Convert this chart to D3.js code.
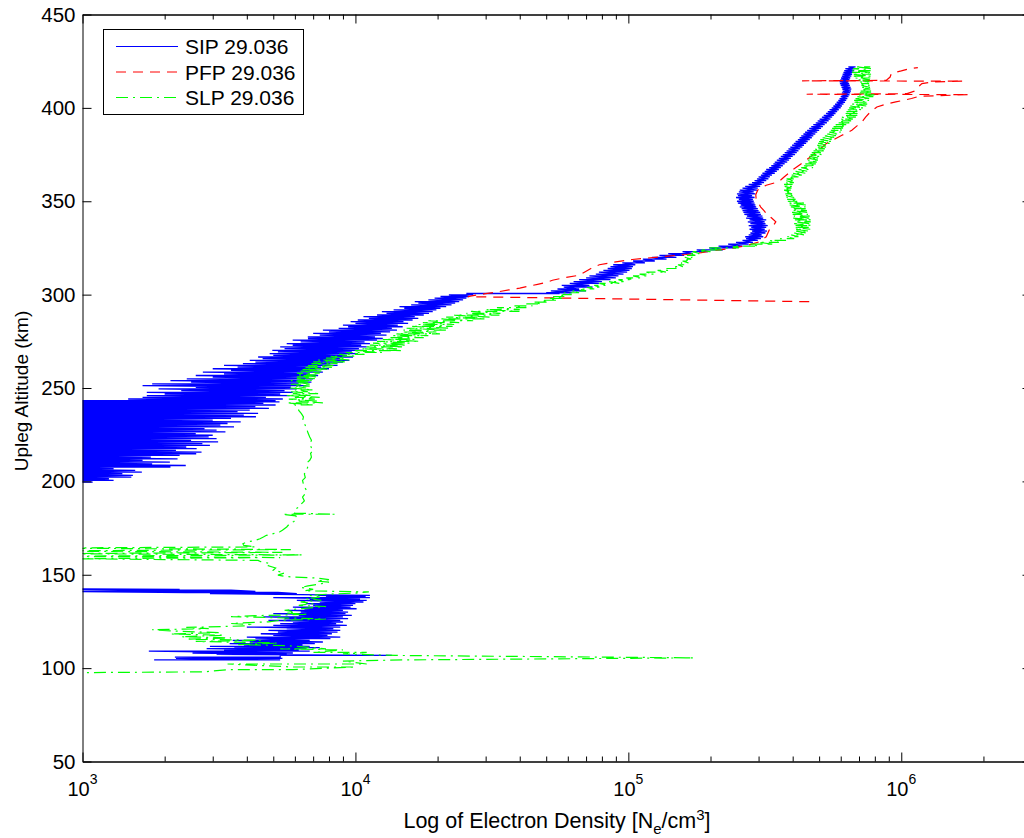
<!DOCTYPE html>
<html>
<head>
<meta charset="utf-8">
<script src="https://cdn.jsdelivr.net/npm/d3@7"></script>
<style>
body { margin: 0; background: #fff; }
svg text { font-family: "Liberation Sans", Arial, Helvetica, sans-serif; fill: #000; }
</style>
</head>
<body>
<div id="vis-container"></div>
<script>
// each row: [altitude (km), Ne, Ne ...] -- the trace passes through the values in order
const sipRows = [
    [104.4, 1830, 5300], [105.2, 2200, 5400], [105.9, 2180, 5300], [106.8, 5300, 13600],
    [107.4, 3100, 5600], [108.1, 2530, 5900], [109.1, 1750, 6800], [109.8, 3300, 6200],
    [110.4, 2850, 6600], [111.0, 3600, 7400], [111.6, 2930, 6800], [112.4, 3900, 6400],
    [113.1, 3460, 7100], [114.0, 4100, 7600], [114.9, 3550, 6800], [115.8, 4300, 8100],
    [116.6, 4000, 8800], [117.5, 5000, 7900], [118.4, 4500, 8200], [119.3, 5200, 8600],
    [120.2, 4800, 8800], [121.1, 5600, 8300], [122.0, 4000, 8800], [122.9, 5000, 9300],
    [123.8, 5300, 8500], [124.7, 5900, 9000], [125.6, 4800, 8800], [126.5, 5500, 9400],
    [127.4, 4600, 9000], [128.3, 6200, 9700], [129.2, 5000, 9200], [130.0, 6300, 9400],
    [130.9, 5700, 9000], [131.8, 6500, 10100], [132.7, 5900, 9600], [133.6, 7000, 9800],
    [134.5, 6600, 10000], [135.4, 7400, 10700], [136.3, 6100, 11000], [137.0, 6800, 10400],
    [137.7, 5000, 11300], [138.4, 7800, 10900], [139.0, 7300, 11300], [139.9, 2930, 6100],
    [140.5, 5200, 2400], [141.1, 700, 4300], [141.7, 3500, 1600], [142.2, 700, 2270],
    [142.5, 600], [170.0, 500], [199.4, 600],
    [199.6, 700, 1090], [200.5, 620, 1300], [201.4, 680, 1250], [202.3, 600, 1510],
    [203.2, 650, 1530], [204.1, 700, 1400], [205.0, 620, 1650], [205.9, 680, 1560],
    [206.8, 600, 1300], [207.7, 640, 2100], [208.5, 700, 2390], [209.4, 610, 1800],
    [210.3, 660, 2090], [211.2, 620, 1660], [212.1, 700, 2230], [213.0, 640, 1780],
    [213.9, 600, 2270], [214.8, 680, 2610], [215.7, 620, 2730], [216.6, 660, 2200],
    [217.5, 600, 2620], [218.4, 700, 2400], [219.3, 640, 2930], [220.2, 610, 2750],
    [221.1, 680, 3140], [222.0, 620, 2500], [222.9, 660, 3100], [223.8, 600, 2900],
    [224.7, 700, 3000], [225.6, 640, 2600], [226.5, 610, 3340], [227.4, 680, 3100],
    [228.3, 620, 2800], [229.2, 660, 3590], [230.1, 600, 3200], [231.0, 700, 3400],
    [231.9, 640, 3800], [232.8, 610, 3000], [233.7, 680, 3500], [234.6, 620, 4320],
    [235.5, 660, 3900], [236.4, 600, 4400], [237.3, 700, 3700], [238.2, 640, 4100],
    [239.1, 610, 4820], [240.0, 680, 4300], [240.9, 620, 5100], [241.8, 660, 4600],
    [242.6, 600, 5270],
    [243.2, 700, 5100], [244.1, 1470, 5420], [245.0, 1660, 4700], [245.9, 1720, 5740],
    [246.8, 2000, 5300], [247.7, 1720, 5890], [248.6, 2300, 5500], [249.5, 1900, 6100],
    [250.4, 2600, 5800], [251.3, 1660, 6600], [252.2, 1800, 6200], [253.1, 2500, 6900],
    [254.0, 2100, 6400], [254.9, 2410, 7000], [255.8, 3000, 6600], [256.7, 2600, 7300],
    [257.6, 3300, 6800], [258.5, 2760, 7600], [259.4, 3500, 7200], [260.3, 3000, 8000],
    [261.2, 3700, 7500], [262.1, 3300, 8600], [263.0, 3870, 8100], [263.9, 4300, 9000],
    [264.8, 4100, 9500], [265.7, 4570, 8800], [266.6, 4400, 9800], [267.5, 5000, 9300],
    [268.4, 4850, 10200], [269.3, 5200, 9700], [270.2, 4960, 10700], [271.1, 5500, 10300],
    [272.0, 5300, 11000], [272.9, 5890, 10500], [273.8, 5600, 11300], [274.7, 6300, 10800],
    [275.6, 5890, 12000], [276.5, 6700, 12600], [277.4, 6690, 11800], [278.3, 7400, 13000],
    [279.2, 7000, 12400], [280.1, 8000, 13400], [281.0, 7600, 14200], [281.9, 8680, 13600],
    [282.8, 9400, 14900], [283.7, 9000, 14300], [284.6, 10000, 15600], [285.5, 9600, 15000],
    [286.4, 10200, 16200], [287.3, 11200, 17000], [288.2, 10700, 16500], [289.1, 12000, 17800],
    [290.0, 13000, 18600], [290.9, 12500, 19200], [291.8, 13800, 19800], [292.7, 15100, 20500],
    [293.6, 14500, 21500], [294.5, 16000, 22500], [295.4, 17000, 23200], [296.3, 16500, 24000],
    [297.2, 18500, 24800], [298.1, 19500, 25500], [299.0, 20500, 26000], [299.9, 22000, 27000],
    [300.6, 25500, 56000],
    [301, 50000, 62000], [302, 52000, 70000], [303, 55000, 66000], [304, 58000, 74000],
    [305, 57000, 72000], [306, 61000, 78000], [307, 63000, 80000], [308, 66000, 86000],
    [309, 70000, 90000], [310, 72000, 92000], [311, 76000, 96000], [312, 78000, 99000],
    [313, 81000, 101000], [314, 84000, 103000], [315, 86000, 104000], [316, 88000, 106000],
    [317, 95000, 115000], [318, 104000, 125000], [319, 113000, 138000], [320, 122000, 150000],
    [321, 130000, 160000], [322, 140000, 172000], [323, 158000, 196000], [324, 178000, 222000],
    [325, 198000, 248000], [326, 214000, 262000], [327, 232000, 276000], [328, 248000, 286000],
    [329, 262000, 298000], [330, 270000, 306000], [331, 268000, 312000], [332, 276000, 308000],
    [333, 280000, 318000], [334, 284000, 322000], [335, 278000, 316000], [336, 282000, 320000],
    [337, 276000, 324000], [338, 280000, 318000], [339, 274000, 316000], [340, 278000, 320000],
    [341, 270000, 312000], [342, 272000, 310000], [343, 266000, 306000], [344, 264000, 304000],
    [345, 262000, 300000], [346, 260000, 298000], [347, 256000, 294000], [348, 258000, 292000],
    [349, 252000, 290000], [350, 250000, 288000], [351, 254000, 286000], [352, 248000, 290000],
    [353, 252000, 284000], [354, 250000, 292000], [355, 254000, 288000], [356, 256000, 296000],
    [357, 262000, 298000], [358, 268000, 304000], [359, 276000, 308000], [360, 284000, 314000],
    [361, 290000, 320000], [362, 296000, 326000], [363, 300000, 330000], [364, 306000, 336000],
    [365, 310000, 344000], [366, 316000, 350000], [367, 320000, 356000], [368, 328000, 362000],
    [369, 334000, 368000], [370, 340000, 374000], [371, 344000, 382000], [372, 350000, 388000],
    [373, 356000, 394000], [374, 362000, 400000], [375, 368000, 408000], [376, 374000, 414000],
    [377, 380000, 420000], [378, 386000, 426000], [379, 392000, 434000], [380, 398000, 440000],
    [381, 404000, 448000], [382, 410000, 454000], [383, 418000, 462000], [384, 424000, 470000],
    [385, 430000, 476000], [386, 438000, 484000], [387, 444000, 492000], [388, 452000, 500000],
    [389, 460000, 508000], [390, 468000, 516000], [391, 476000, 524000], [392, 486000, 534000],
    [393, 494000, 542000], [394, 502000, 550000], [395, 512000, 558000], [396, 520000, 566000],
    [397, 530000, 574000], [398, 538000, 582000], [399, 546000, 590000], [400, 556000, 600000],
    [401, 564000, 606000], [402, 572000, 614000], [403, 580000, 622000], [404, 588000, 628000],
    [405, 594000, 634000], [406, 600000, 640000], [407, 604000, 646000], [408, 606000, 650000],
    [409, 610000, 654000], [410, 608000, 656000], [411, 604000, 652000], [412, 600000, 648000],
    [413, 596000, 644000], [414, 594000, 640000], [415, 598000, 646000], [416, 602000, 650000],
    [417, 606000, 656000], [418, 610000, 660000], [419, 614000, 666000], [420, 618000, 672000],
    [421, 624000, 676000], [422, 640000, 680000]
];

const pfpRows = [
    [296.2, 460000], [298.9, 25800], [299.5, 27000], [300.5, 30000], [301.4, 33000],
    [302.5, 36500], [303.5, 40000], [304.5, 43000], [305.5, 46500], [306.5, 50000],
    [307.7, 52700], [309.0, 58000], [310.4, 66100], [312.0, 69000], [314.0, 72900],
    [316.0, 78300], [317.5, 90000], [318.8, 103300], [320.5, 137300], [321.5, 162500],
    [322.5, 185000], [323.8, 210000], [324.8, 240000], [326.5, 275000], [328.2, 300000],
    [331.0, 320000], [334.5, 328000], [337.0, 340000], [339.0, 347000], [341.0, 335000],
    [343.0, 322000], [345.0, 314000], [347.0, 305000], [348.7, 301000], [351.0, 294000],
    [353.5, 293000], [356.0, 298000], [358.6, 320000], [360.5, 356000], [363.0, 372000],
    [366.6, 398000], [370.0, 429000], [373.5, 462000], [377.3, 499000], [380.8, 530000],
    [383.0, 565000], [385.3, 606000], [388.0, 659000], [390.5, 690000], [392.5, 718000],
    [395.0, 740000], [397.0, 761000], [399.0, 790000], [400.5, 814000], [402.0, 880000],
    [403.2, 955000], [405.0, 1090000], [406.2, 1160000], [407.1, 1770000], [407.3, 450000],
    [407.6, 1050000], [409.0, 1120000], [411.0, 1150000], [413.0, 1190000], [413.9, 1300000],
    [414.3, 1690000], [414.5, 433000], [414.7, 880000], [416.5, 910000], [418.5, 920000],
    [419.8, 1000000], [420.8, 1060000], [421.6, 1150000]
];

const slpRows = [
    [97.4, 600], [98.0, 2800], [99.2, 3400, 5900], [100.6, 10000, 5900], [102.2, 3400, 11000],
    [103.8, 9000], [104.4, 15000], [105.5, 174000], [106.8, 14000], [107.6, 9000],
    [108.4, 11000, 7000], [109.8, 9000], [110.3, 5300, 7800], [112.0, 5700], [112.6, 3700],
    [113.4, 5200], [114.3, 2600], [114.9, 4500], [115.5, 2400], [116.2, 3500],
    [116.8, 2300], [117.6, 3300], [118.3, 2100], [119.0, 3200], [119.8, 2200],
    [120.6, 1800], [121.1, 2900], [121.8, 2400], [122.6, 4000], [123.4, 4100],
    [123.9, 3500], [124.8, 4800], [125.6, 5300], [126.3, 7800], [126.8, 5800],
    [127.6, 3500], [128.2, 4600], [128.8, 6700], [129.5, 5600], [130.2, 6000],
    [131.0, 5500], [132.0, 6500], [133.0, 7800], [133.6, 6200], [134.5, 7000],
    [135.5, 6300], [136.3, 7500], [137.2, 6600], [138.0, 7400], [139.0, 6800],
    [139.6, 7900], [140.2, 10000], [140.8, 11200], [141.4, 6500], [142.2, 7000],
    [143.2, 6300], [144.0, 6700], [145.2, 7500], [146.0, 8000], [146.6, 7200],
    [147.4, 8000], [148.2, 7300], [149.0, 5600], [149.8, 5200], [151.0, 5500],
    [152.4, 5000], [153.6, 5100], [154.8, 4800], [155.9, 4900], [157.0, 4500],
    [157.7, 4400], [158.6, 900], [159.2, 5300], [159.9, 700], [160.6, 6400],
    [161.3, 800], [162.0, 5400], [162.7, 600], [163.5, 5800], [164.3, 700],
    [164.9, 4300], [165.7, 3900], [166.6, 3870], [167.5, 3990], [168.4, 4300],
    [169.3, 4470], [170.2, 4600], [171.1, 4720], [172.0, 5000], [172.9, 5270],
    [173.8, 5400], [175.6, 5600], [177.4, 5745], [178.5, 5950], [180.0, 6100],
    [181.5, 6050], [182.4, 5400, 8400], [183.0, 5990], [184.0, 6100], [185.4, 6070],
    [186.5, 6250], [188.0, 6340], [189.5, 6500], [191.6, 6400], [193.5, 6550],
    [195.2, 6620], [197.0, 6500], [198.5, 6450], [200.5, 6400], [202.0, 6550],
    [204.0, 6500], [206.0, 6620], [208.0, 6700], [210.0, 6650], [211.3, 6800],
    [213.0, 6900], [215.0, 6850], [216.6, 7000], [218.0, 6900], [220.0, 6800],
    [222.0, 6900], [223.8, 6800], [226.0, 6700], [229.0, 6600], [231.0, 6500],
    [232.5, 6400], [234.5, 6450], [236.3, 6340], [238.0, 6200], [239.8, 6150],
    [241, 6000, 7000], [242, 5600, 7600], [243, 6200, 7300], [244, 5700, 7100],
    [245, 6000, 7400], [246, 5600, 6900], [247, 5900, 7300], [248, 5800, 6700],
    [249, 6000, 7000], [250, 5750, 6600], [251, 6000, 6800], [252, 5800, 6900],
    [253, 6100, 6700], [254, 5800, 7000], [255, 6100, 7100], [256, 6000, 7300],
    [257, 6200, 7200], [258, 6100, 7400], [259, 6300, 7600], [260, 6300, 7900],
    [261, 6500, 8200], [262, 6700, 8300], [263, 6900, 8600], [264, 7000, 9300],
    [265, 7300, 9500], [266, 7800, 9200], [267, 8100, 10100], [268, 8700, 10800],
    [269, 9200, 12500], [270, 9800, 14800], [271, 10500, 14200], [272, 11000, 15000],
    [273, 11300, 15400], [274, 11600, 15800], [275, 12000, 17200], [276, 12600, 16500],
    [277, 13200, 17800], [278, 13700, 18500], [279, 14100, 20400], [280, 14800, 19800],
    [281, 15000, 21500], [282, 15400, 22100], [283, 16000, 22700], [284, 17000, 23000],
    [285, 17500, 24000], [286, 18500, 27000], [287, 20400, 30000], [288, 21500, 31000],
    [289, 23000, 33700], [290, 25500, 34000], [291, 26500, 39900], [292, 30000, 40000],
    [293, 33000, 42300], [294, 38000, 44500], [295, 42300, 48000], [296, 45000, 51000],
    [297, 48000, 55000], [298, 51000, 58000], [299, 53000, 59200], [300, 55900, 62000],
    [301, 58000, 66000], [302, 62000, 70000], [303, 66100, 75000], [304, 70000, 78300],
    [305, 75000, 84000], [306, 78300, 92600], [307, 85000, 96000], [308, 92000, 104000],
    [309, 98300, 112000], [310, 104000, 118000], [311, 110000, 124000], [312, 116500, 138200],
    [313, 128000, 142000], [314, 138000, 150000], [315, 145500, 158300], [316, 152000, 162000],
    [317, 156000, 166000], [318, 158000, 168000], [319, 160000, 170000], [320, 161000, 171600],
    [321, 164000, 176000], [322, 167000, 182000], [323, 172000, 200000], [324, 182000, 220000],
    [325, 198000, 254000], [326, 240000, 300000], [327, 280000, 340000], [328, 300000, 356000],
    [329, 330000, 378000], [330, 360000, 405000], [331, 378000, 420000], [332, 395000, 440000],
    [333, 405000, 450000], [334, 412000, 460000], [335, 408000, 464000], [336, 405000, 458000],
    [337, 410000, 468000], [338, 405000, 460000], [339, 408000, 466000], [340, 405000, 468000],
    [341, 402000, 460000], [342, 404000, 462000], [343, 400000, 455000], [344, 398000, 452000],
    [345, 400000, 451000], [346, 396000, 448000], [347, 394000, 446000], [348, 390000, 447000],
    [349, 388000, 440000], [350, 384000, 420000], [351, 382000, 410000], [352, 380000, 405000],
    [353, 378000, 400000], [354, 376000, 398000], [355, 374000, 396000], [356, 372000, 398000],
    [357, 372000, 396000], [358, 374000, 398000], [359, 372000, 400000], [360, 376000, 404000],
    [361, 378000, 406000], [362, 380000, 410000], [363, 386000, 420000], [364, 392000, 432000],
    [365, 400000, 445000], [366, 410000, 455000], [367, 420000, 465000], [368, 430000, 475000],
    [369, 440000, 485000], [370, 445000, 488000], [371, 450000, 490000], [372, 455000, 495000],
    [373, 458000, 500000], [374, 460000, 505000], [375, 465000, 510000], [376, 470000, 515000],
    [377, 475000, 520000], [378, 480000, 525000], [379, 488000, 530000], [380, 492000, 540000],
    [381, 496000, 550000], [382, 500000, 558000], [383, 505000, 567000], [384, 515000, 575000],
    [385, 525000, 585000], [386, 535000, 592000], [387, 545000, 600000], [388, 552000, 610000],
    [389, 558000, 620000], [390, 565000, 627000], [391, 575000, 635000], [392, 585000, 645000],
    [393, 592000, 655000], [394, 600000, 665000], [395, 606000, 682000], [396, 615000, 690000],
    [397, 622000, 698000], [398, 630000, 705000], [399, 637000, 715000], [400, 644000, 730000],
    [401, 650000, 744000], [402, 658000, 750000], [403, 665000, 756000], [404, 672000, 762000],
    [405, 680000, 770000], [406, 690000, 790000], [407, 700000, 797000], [408, 705000, 783000],
    [409, 710000, 775000], [410, 712000, 770000], [411, 713000, 768000], [412, 715000, 765000],
    [413, 713000, 762000], [414, 705000, 765000], [415, 695000, 768000], [416, 680000, 770000],
    [417, 670000, 772000], [418, 660000, 775000], [419, 660000, 775000], [420, 662000, 772000],
    [421, 665000, 775000], [422, 680000, 770000]
];

const seriesNames = ["SIP 29.036", "PFP 29.036", "SLP 29.036"];
const altTicks = [50, 100, 150, 200, 250, 300, 350, 400, 450];
const decadeTicks = [1e3, 1e4, 1e5, 1e6];
const decadeExp = ["3", "4", "5", "6"];
const minorTicks = [2e3, 3e3, 4e3, 5e3, 6e3, 7e3, 8e3, 9e3,
    2e4, 3e4, 4e4, 5e4, 6e4, 7e4, 8e4, 9e4,
    2e5, 3e5, 4e5, 5e5, 6e5, 7e5, 8e5, 9e5, 2e6];

const seriesColor = ["#0000ff", "#ff0000", "#00ff00"];
const seriesDash = [null, "10,7", "12,5,2,5"];

const W = 1024, H = 838;
const plotLeft = 82.5, plotRight = 1031.5, plotTop = 14.5, plotBottom = 761.5;

let svg = d3.select("#vis-container")
    .append("svg")
    .attr("width", W)
    .attr("height", H);

svg.append("rect").attr("width", W).attr("height", H).attr("fill", "#fff");

let x = d3.scaleLog().domain([1e3, 3e6]).range([plotLeft, plotRight]);
let y = d3.scaleLinear().domain([50, 450]).range([plotBottom, plotTop]);

svg.append("clipPath").attr("id", "plot-clip")
    .append("rect")
    .attr("x", plotLeft).attr("y", plotTop)
    .attr("width", plotRight - plotLeft).attr("height", plotBottom - plotTop);

// rows -> [Ne, alt] points in trace order
const toPoints = rows => rows.flatMap(r => r.slice(1).map(v => [v, r[0]]));

let line = d3.line()
    .x(d => x(d[0]))
    .y(d => y(d[1]));

let traces = [sipRows, pfpRows, slpRows];
let plot_g = svg.append("g").attr("clip-path", "url(#plot-clip)");
traces.forEach((rows, i) => {
    plot_g.append("path")
        .datum(toPoints(rows))
        .attr("fill", "none")
        .attr("stroke", seriesColor[i])
        .attr("stroke-width", i === 0 ? 1.3 : 1.2)
        .attr("stroke-dasharray", seriesDash[i])
        .attr("d", line);
});

// axes, ticks pointing inward on all four sides
let styleAxis = g => {
    g.selectAll("path.domain").attr("stroke", "#000").attr("stroke-width", 1);
    g.selectAll(".tick line").attr("stroke", "#000");
};

svg.append("g")
    .attr("transform", `translate(0,${plotBottom})`)
    .call(d3.axisBottom(x).tickValues(decadeTicks).tickSize(-9).tickSizeOuter(0).tickFormat(""))
    .call(styleAxis);
svg.append("g")
    .attr("transform", `translate(0,${plotBottom})`)
    .call(d3.axisBottom(x).tickValues(minorTicks).tickSize(-5).tickSizeOuter(0).tickFormat(""))
    .call(styleAxis);
svg.append("g")
    .attr("transform", `translate(0,${plotTop})`)
    .call(d3.axisTop(x).tickValues(decadeTicks).tickSize(-9).tickSizeOuter(0).tickFormat(""))
    .call(styleAxis);
svg.append("g")
    .attr("transform", `translate(0,${plotTop})`)
    .call(d3.axisTop(x).tickValues(minorTicks).tickSize(-5).tickSizeOuter(0).tickFormat(""))
    .call(styleAxis);

svg.append("g")
    .attr("transform", `translate(${plotLeft},0)`)
    .call(d3.axisLeft(y).tickValues(altTicks).tickSize(-9).tickSizeOuter(0).tickPadding(7))
    .call(styleAxis)
    .call(g => g.selectAll(".tick text")
        .attr("font-size", 20.5)
        .attr("font-family", "Liberation Sans, Arial, sans-serif")
        .attr("fill", "#000"));
svg.append("g")
    .attr("transform", `translate(${plotRight},0)`)
    .call(d3.axisRight(y).tickValues(altTicks).tickSize(-9).tickSizeOuter(0).tickFormat(""))
    .call(styleAxis);

// decade labels 10^n
let xlab = svg.append("g").selectAll("text")
    .data(decadeTicks)
    .enter().append("text")
    .attr("x", d => x(d))
    .attr("y", 796)
    .attr("text-anchor", "middle")
    .attr("font-size", 20);
xlab.append("tspan").text("10");
xlab.append("tspan")
    .attr("dy", -12)
    .attr("font-size", 14)
    .text((d, i) => decadeExp[i]);

// axis titles
let xt = svg.append("text")
    .attr("x", (plotLeft + plotRight) / 2)
    .attr("y", 828)
    .attr("text-anchor", "middle")
    .attr("font-size", 21.5);
xt.append("tspan").text("Log of Electron Density [N");
xt.append("tspan").attr("dy", 6).attr("font-size", 15).text("e");
xt.append("tspan").attr("dy", -6).text("/cm");
xt.append("tspan").attr("dy", -8).attr("font-size", 15).text("3");
xt.append("tspan").attr("dy", 8).text("]");

svg.append("text")
    .attr("transform", `translate(28,391) rotate(-90)`)
    .attr("text-anchor", "middle")
    .attr("font-size", 19)
    .text("Upleg Altitude (km)");

// legend
let legend = svg.append("g");
legend.append("rect")
    .attr("x", 103.5).attr("y", 29.5)
    .attr("width", 200).attr("height", 85)
    .attr("fill", "#fff").attr("stroke", "#000");
seriesNames.forEach((name, i) => {
    let ly = 46.5 + i * 25.5;
    legend.append("line")
        .attr("x1", 116).attr("x2", 178)
        .attr("y1", ly).attr("y2", ly)
        .attr("stroke", seriesColor[i])
        .attr("stroke-dasharray", seriesDash[i]);
    legend.append("text")
        .attr("x", 185).attr("y", ly + 7.5)
        .attr("font-size", 21)
        .text(name);
});
</script>
</body>
</html>
